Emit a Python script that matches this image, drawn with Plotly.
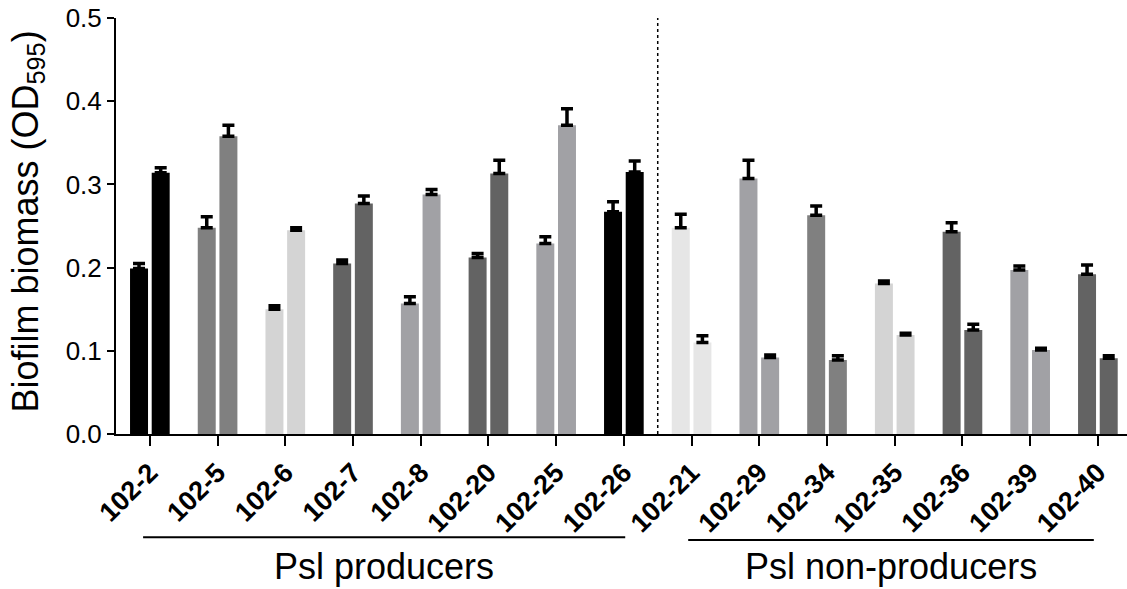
import plotly.graph_objects as go

categories = ["102-2", "102-5", "102-6", "102-7", "102-8", "102-20", "102-25", "102-26",
              "102-21", "102-29", "102-34", "102-35", "102-36", "102-39", "102-40"]
series_a = [0.199, 0.248, 0.150, 0.205, 0.157, 0.212, 0.229, 0.267,
            0.248, 0.307, 0.263, 0.181, 0.243, 0.197, 0.192]
series_a_err = [0.006, 0.013, 0.004, 0.004, 0.008, 0.005, 0.008, 0.012,
                0.016, 0.022, 0.011, 0.003, 0.011, 0.005, 0.011]
series_b = [0.314, 0.358, 0.245, 0.277, 0.288, 0.313, 0.371, 0.315,
            0.110, 0.092, 0.089, 0.119, 0.125, 0.101, 0.091]
series_b_err = [0.006, 0.013, 0.003, 0.009, 0.006, 0.016, 0.020, 0.013,
                0.008, 0.003, 0.005, 0.002, 0.007, 0.002, 0.003]
bar_colors = ["#000000", "#808080", "#d4d4d4", "#636363", "#a1a1a5", "#636363", "#a1a1a5", "#000000",
              "#e6e6e6", "#a1a1a5", "#808080", "#d4d4d4", "#636363", "#a1a1a5", "#636363"]
y_ticks = [0.0, 0.1, 0.2, 0.3, 0.4, 0.5]
group_labels = ["Psl producers", "Psl non-producers"]
y_title = "Biofilm biomass (OD<sub>595</sub>)"

FONT = "Arial, Liberation Sans, Helvetica, sans-serif"

fig = go.Figure()
for vals, errs in [(series_a, series_a_err), (series_b, series_b_err)]:
    fig.add_trace(go.Bar(
        x=categories, y=vals,
        marker=dict(color=bar_colors, line=dict(width=0)),
        error_y=dict(type="data", symmetric=False, array=errs,
                     arrayminus=[0] * len(errs), color="black",
                     thickness=3.5, width=6),
        showlegend=False,
    ))

fig.update_layout(
    width=1127, height=589,
    margin=dict(l=116, r=0, t=18, b=155),
    paper_bgcolor="white", plot_bgcolor="white",
    barmode="group", bargap=0.36, bargroupgap=0.17,
    font=dict(family=FONT, color="black"),
    xaxis=dict(
        range=[-0.5, 14.43],
        showline=True, linecolor="black", linewidth=2,
        ticks="outside", ticklen=10, tickwidth=2, tickcolor="black",
        tickangle=-45, tickfont=dict(size=27, family=FONT, weight="bold"),
        showgrid=False, zeroline=False,
    ),
    yaxis=dict(
        range=[0, 0.5], tickvals=y_ticks, ticktext=[f"{v:.1f}" for v in y_ticks],
        showline=True, linecolor="black", linewidth=2,
        ticks="outside", ticklen=7, tickwidth=2, tickcolor="black",
        tickfont=dict(size=26, family=FONT),
        showgrid=False, zeroline=False,
    ),
)

# y-axis title
fig.add_annotation(xref="paper", yref="paper", x=-0.087, y=0.511, text=y_title,
                   textangle=-90, showarrow=False, xanchor="center", yanchor="middle",
                   font=dict(size=36, family=FONT))

# dotted separator between groups
fig.add_shape(type="line", xref="x", yref="y", x0=7.5, x1=7.5, y0=0, y1=0.5,
              line=dict(color="black", width=1.5, dash="dot"))

# group underlines and labels
fig.add_shape(type="line", xref="x", yref="paper", x0=-0.10, x1=7.02, y0=-0.248, y1=-0.248,
              line=dict(color="black", width=2))
fig.add_shape(type="line", xref="x", yref="paper", x0=7.95, x1=13.94, y0=-0.255, y1=-0.255,
              line=dict(color="black", width=2))
fig.add_annotation(xref="x", yref="paper", x=3.46, y=-0.318, text=group_labels[0],
                   showarrow=False, font=dict(size=36, family=FONT), yanchor="middle")
fig.add_annotation(xref="x", yref="paper", x=10.95, y=-0.318, text=group_labels[1],
                   showarrow=False, font=dict(size=36, family=FONT), yanchor="middle")

fig.write_html("out.html")
